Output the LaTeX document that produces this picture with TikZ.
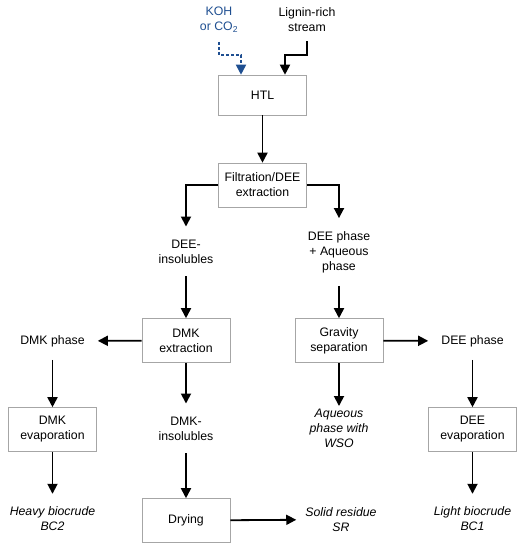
\documentclass[tikz,border=0pt]{standalone}
\usepackage{fontspec}
\setmainfont{Liberation Sans}
\usetikzlibrary{arrows.meta}
\definecolor{katkiMavi}{HTML}{1F4F91}
\definecolor{kutuGri}{HTML}{A6A6A6}

\begin{document}
\begin{tikzpicture}[x=1pt,y=-1pt,font=\fontsize{12.3}{15}\selectfont,
  kutu/.style={draw=kutuGri,line width=0.6pt,minimum width=88pt,minimum height=44pt,align=center,inner sep=2pt},
  etiket/.style={align=center,inner xsep=13pt,inner ysep=13pt},
  urun/.style={etiket,font=\fontsize{12.3}{15}\selectfont\itshape},
  akis/.style={line width=1.8pt,-{Triangle[width=10pt,length=10pt]}},
  katki/.style={akis,katkiMavi,dash pattern=on 3pt off 2pt}]
\useasboundingbox (0,0) rectangle (526,550);
\node[etiket,inner ysep=9pt,text=katkiMavi] (koh) at (219,20) {KOH\\or CO\textsubscript{2}};
\node[etiket,inner ysep=9pt] (lignin) at (307,20) {Lignin-rich\\stream};
\node[kutu,minimum height=40pt] (htl) at (262.5,95) {HTL};
\node[kutu] (filt) at (262.5,185) {Filtration/DEE\\extraction};
\node[etiket] (deeins) at (186,251.5) {DEE-\\insolubles};
\node[etiket] (deeaq) at (339,252) {DEE phase\\+ Aqueous\\phase};
\node[kutu] (dmkext) at (186,340.5) {DMK\\extraction};
\node[kutu] (grav) at (339,340.5) {Gravity\\separation};
\node[etiket] (dmkph) at (52.5,341) {DMK phase};
\node[etiket] (deeph) at (472.5,341) {DEE phase};
\node[kutu] (dmkevap) at (52.5,429.5) {DMK\\evaporation};
\node[etiket] (dmkins) at (186,428.5) {DMK-\\insolubles};
\node[urun,inner ysep=3pt] (aqwso) at (339,428.5) {Aqueous\\phase with\\WSO};
\node[kutu] (deeevap) at (472.5,429.5) {DEE\\evaporation};
\node[urun] (heavy) at (52.5,519) {Heavy biocrude\\BC2};
\node[kutu] (drying) at (186,520.5) {Drying};
\node[urun,inner xsep=9pt] (solid) at (341,519.5) {Solid residue\\SR};
\node[urun] (light) at (472.5,519) {Light biocrude\\BC1};
\draw[katki] (koh.south) -- ++(0,13) -| ([xshift=-21.5pt]htl.north);
\draw[akis] (lignin.south) -- ++(0,14) -| ([xshift=22.5pt]htl.north);
\draw[akis] (htl) -- (filt);
\draw[akis] (filt.west) -| (deeins.north);
\draw[akis] (filt.east) -| (deeaq.north);
\draw[akis] (deeins) -- (dmkext);
\draw[akis] (deeaq) -- (grav);
\draw[akis] (dmkext) -- (dmkph);
\draw[akis] (grav) -- (deeph);
\draw[akis] (dmkph) -- (dmkevap);
\draw[akis] (dmkext) -- (dmkins);
\draw[akis] (grav) -- (aqwso);
\draw[akis] (deeph) -- (deeevap);
\draw[akis] (dmkevap) -- (heavy);
\draw[akis] (dmkins) -- (drying);
\draw[akis] (drying) -- (solid);
\draw[akis] (deeevap) -- (light);
\end{tikzpicture}
\end{document}
